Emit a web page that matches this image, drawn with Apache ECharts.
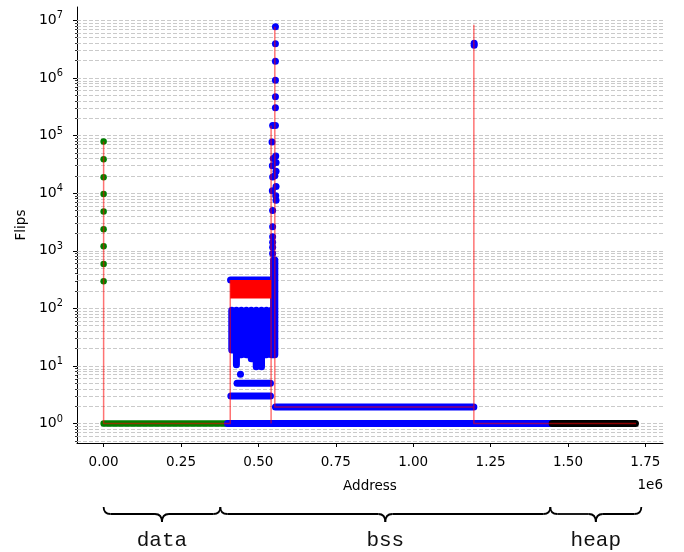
<!DOCTYPE html>
<html>
<head>
<meta charset="utf-8">
<script src="https://cdn.jsdelivr.net/npm/echarts@6/dist/echarts.min.js"></script>
<style>
  html, body { margin: 0; padding: 0; background: #fff; }
  #chart { width: 684px; height: 552px; }
</style>
</head>
<body>
<div id="chart"></div>
<script>
// x ticks (address) and y decades (log10 of flips)
const xTicks = [0, 250000, 500000, 750000, 1000000, 1250000, 1500000, 1750000];
const yDecades = [0, 1, 2, 3, 4, 5, 6, 7];
const gridDecades = [-1, 0, 1, 2, 3, 4, 5, 6, 7];
const gridSteps = [1, 2, 3, 4, 5, 6, 7, 8, 9];

// memory sections shown under the axis
const sectionNames = ['data', 'bss', 'heap'];
const sectionBounds = [0, 377000, 1443000, 1737000];

// data section: spike at address 0, plus the flat run at 1 flip
const greenSpike = [295, 590, 1200, 2350, 4800, 9700, 18800, 38600, 79000];
const greenRun = [[0, 1], [400000, 1]];

// bss section: single points
const bluePoints = [
  [555000, 7.7e6], [555000, 3.9e6], [555000, 1.95e6], [555000, 9.1e5], [555000, 4.7e5], [555000, 3.05e5],
  [546000, 1.5e5], [555000, 1.5e5], [544000, 7.7e4], [548000, 4.0e4], [556000, 4.4e4], [557000, 3.4e4],
  [545000, 3.0e4], [557000, 2.4e4], [553000, 2.0e4], [546000, 1.9e4], [557000, 1.3e4], [545000, 1.1e4],
  [556000, 9.0e3], [557000, 7.5e3], [546000, 5.0e3], [546000, 2.6e3], [546000, 1.75e3], [546000, 1.4e3],
  [546000, 1.15e3], [546000, 900],
  [1197000, 4.0e6], [1197000, 3.7e6],
  [442000, 7.2]
];
// bss section: dense runs of points (drawn as thick strokes)
const blueRuns = [
  [[400000, 1], [1449000, 1]],
  [[555000, 1.94], [1196000, 1.94]],
  [[411000, 3], [539000, 3]],
  [[431000, 5], [539000, 5]],
  [[410000, 310], [535000, 310]],
  [[414000, 19], [414000, 93]],
  [[429000, 10.5], [429000, 93]],
  [[445000, 15.6], [445000, 93]],
  [[461000, 15.6], [461000, 93]],
  [[477000, 13.3], [477000, 93]],
  [[493000, 9.7], [493000, 93]],
  [[510000, 9.7], [510000, 93]],
  [[526000, 15.6], [526000, 93]],
  [[542000, 15.6], [542000, 93]],
  [[549000, 15.6], [549000, 690]],
  [[553000, 15.6], [553000, 690]]
];
// heap section
const blackRun = [[1449000, 1], [1718000, 1]];

// red trace and the solid red block it forms
const redTrace = [
  [[0, 79000], [0, 1], [409000, 1], [409000, 310]],
  [[541000, 1], [541000, 1.5e5]],
  [[553000, 7.7e6], [553000, 1.94], [1196000, 1.94], [1196000, 8.2e6], [1196000, 1], [1720000, 1]]
];
const redBlock = [[409000, 148], [541000, 310]];

const lg = Math.log10;
const toPoint = (p) => [p[0], lg(p[1])];
function joinRuns(runs) {
  const out = [];
  runs.forEach((run, i) => {
    if (i > 0) out.push([run[0][0], null]);
    run.forEach((p) => out.push(toPoint(p)));
  });
  return out;
}

const gridValues = [];
const minorTicks = [];
gridDecades.forEach((n) => {
  gridSteps.forEach((k) => {
    const v = lg(k) + n;
    if (v > -0.337 && v < 7.231) {
      gridValues.push(v);
      if (k > 1) minorTicks.push(v);
    }
  });
});

const FONT = 'DejaVu Sans';
const chart = echarts.init(document.getElementById('chart'));

function runSeries(name, data, color, width, z) {
  return {
    name, type: 'line', data, z,
    showSymbol: false, symbol: 'none', connectNulls: false, animation: false,
    lineStyle: { color, width, cap: 'round', join: 'round' }
  };
}

const traceSeries = runSeries('trace', joinRuns(redTrace), 'rgba(255,0,0,0.55)', 1.5, 6);
traceSeries.lineStyle.cap = 'butt';
traceSeries.markArea = {
  silent: true, z: 6, animation: false,
  itemStyle: { color: '#ff0000' },
  data: [[{ xAxis: redBlock[0][0], yAxis: lg(redBlock[0][1]) },
          { xAxis: redBlock[1][0], yAxis: lg(redBlock[1][1]) }]]
};

const greenRunSeries = runSeries('data run', joinRuns([greenRun]), '#008000', 6.5, 3);
greenRunSeries.markLine = {
  silent: true, symbol: 'none', z: 1, animation: false,
  label: { show: false },
  lineStyle: { color: '#c4c4c4', width: 0.9, type: [4, 2] },
  data: gridValues.map((v) => ({ yAxis: v }))
};

chart.setOption({
  animation: false,
  textStyle: { fontFamily: FONT },
  grid: { left: 77, right: 21, top: 7, bottom: 109 },
  xAxis: {
    type: 'value', min: -86000, max: 1807000,
    name: 'Address', nameLocation: 'middle', nameGap: 36,
    nameTextStyle: { color: '#000', fontSize: 13.5, fontFamily: FONT },
    axisLine: { onZero: false, lineStyle: { color: '#000', width: 1 } },
    axisTick: { customValues: xTicks, length: 4, lineStyle: { color: '#000' } },
    axisLabel: {
      customValues: xTicks, color: '#000', fontSize: 13.5, margin: 12,
      formatter: (v) => (v / 1e6).toFixed(2)
    },
    splitLine: { show: false }
  },
  yAxis: [
    {
      type: 'value', min: -0.337, max: 7.231,
      name: 'Flips', nameLocation: 'middle', nameGap: 47,
      nameTextStyle: { color: '#000', fontSize: 13.5, fontFamily: FONT },
      axisLine: { show: true, onZero: false, lineStyle: { color: '#000', width: 1 } },
      axisTick: { customValues: yDecades, length: 4, lineStyle: { color: '#000' } },
      axisLabel: {
        customValues: yDecades, margin: 14,
        formatter: (v) => '{b|10}{s|' + Math.round(v) + '}',
        rich: {
          b: { fontSize: 14, color: '#000', fontFamily: FONT },
          s: { fontSize: 9.8, color: '#000', fontFamily: FONT, padding: [0, 0, 9, 0] }
        }
      },
      splitLine: { show: false }
    },
    {
      type: 'value', min: -0.337, max: 7.231, position: 'left',
      axisLine: { show: false, onZero: false },
      axisTick: { show: true, customValues: minorTicks, length: 2, lineStyle: { color: '#000', width: 0.8 } },
      axisLabel: { show: false },
      splitLine: { show: false }
    }
  ],
  series: [
    greenRunSeries,
    {
      name: 'data', type: 'scatter', z: 3, animation: false,
      symbolSize: 6.5, itemStyle: { color: '#008000', opacity: 1 },
      data: greenSpike.map((v) => [0, lg(v)])
    },
    runSeries('bss run', joinRuns(blueRuns), '#0000ff', 7, 3),
    {
      name: 'bss', type: 'scatter', z: 3, animation: false,
      symbolSize: 7, itemStyle: { color: '#0000ff', opacity: 1 },
      data: bluePoints.map(toPoint)
    },
    runSeries('heap run', joinRuns([blackRun]), '#000000', 7, 3),
    traceSeries
  ]
});

// braces and section names below the axis, placed through the x scale
const px = (v) => chart.convertToPixel({ xAxisIndex: 0 }, v);
const braceTop = 507, braceMid = 514, braceTip = 522, braceR = 7;
const braceStyle = { stroke: '#000', lineWidth: 1.8, fill: null };
function braceParts(a, b) {
  const m = (a + b) / 2;
  const curve = (x1, y1, cx, cy, x2, y2) => ({
    type: 'bezierCurve', silent: true,
    shape: { x1, y1, x2, y2, cpx1: cx, cpy1: cy }, style: braceStyle
  });
  const seg = (x1, x2) => ({
    type: 'line', silent: true,
    shape: { x1, y1: braceMid, x2, y2: braceMid }, style: braceStyle
  });
  return [
    curve(a, braceTop, a, braceMid, a + braceR, braceMid),
    seg(a + braceR, m - braceR),
    curve(m - braceR, braceMid, m, braceMid, m, braceTip),
    curve(m, braceTip, m, braceMid, m + braceR, braceMid),
    seg(m + braceR, b - braceR),
    curve(b - braceR, braceMid, b, braceMid, b, braceTop)
  ];
}
const graphics = [];
sectionNames.forEach((name, i) => {
  const a = px(sectionBounds[i]);
  const b = px(sectionBounds[i + 1]);
  braceParts(a, b).forEach((g) => graphics.push(g));
  graphics.push({
    type: 'text', silent: true, x: (a + b) / 2, y: 540,
    style: {
      text: name, font: '21px "Liberation Mono"', fill: '#111',
      align: 'center', verticalAlign: 'middle'
    }
  });
});
graphics.push({
  type: 'text', silent: true, x: 663, y: 485,
  style: {
    text: '1e6', font: '13.5px "DejaVu Sans"', fill: '#000',
    align: 'right', verticalAlign: 'middle'
  }
});
chart.setOption({ graphic: graphics });
</script>
</body>
</html>
